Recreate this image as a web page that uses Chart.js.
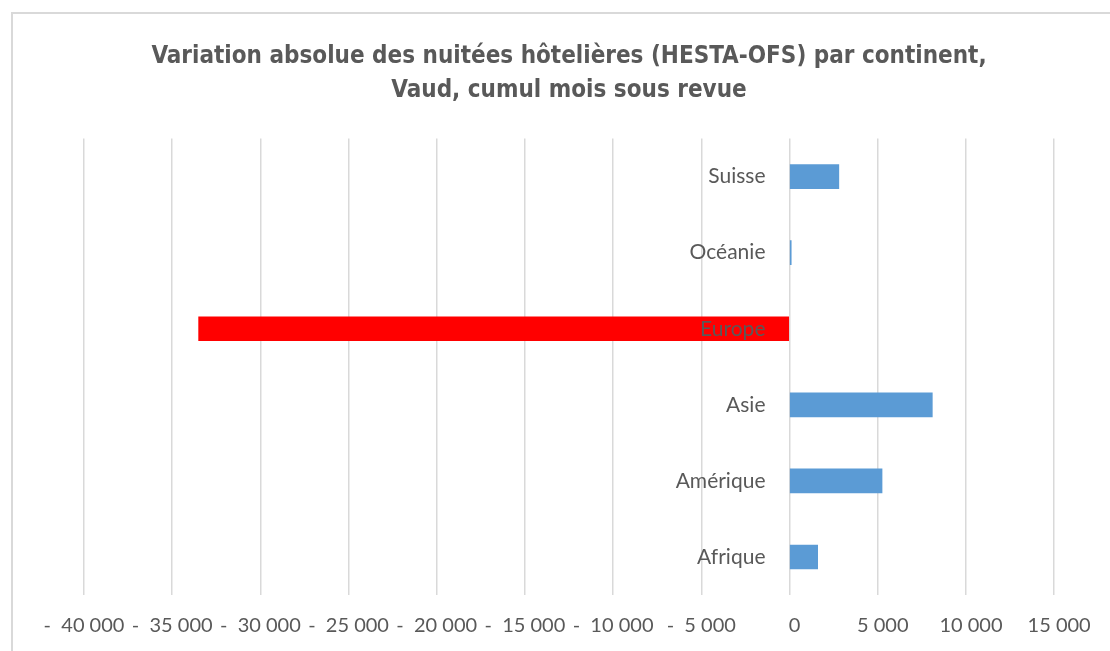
<!DOCTYPE html>
<html>
<head>
<meta charset="utf-8">
<script src="https://cdn.jsdelivr.net/npm/chart.js@4.4.1/dist/chart.umd.min.js"></script>
<style>
  html, body { margin: 0; padding: 0; background: #fff; }
  #wrap { position: relative; width: 1110px; height: 651px; overflow: hidden; }
  #frame { position: absolute; left: 11px; top: 12px; width: 1200px; height: 700px;
           border: 2px solid #d9d9d9; box-sizing: border-box; }
  canvas { position: absolute; left: 0; top: 0; }
</style>
</head>
<body>
<div id="wrap">
  <div id="frame"></div>
  <canvas id="chart" width="1110" height="651"></canvas>
</div>
<script>
// continents, listed top to bottom as in the chart
const categories = ['Suisse', 'Océanie', 'Europe', 'Asie', 'Amérique', 'Afrique'];
// absolute change in hotel nights
const variation = [2800, 100, -33500, 8100, 5250, 1600];

const titleLines = [
  'Variation absolue des nuitées hôtelières (HESTA-OFS) par continent,',
  'Vaud, cumul mois sous revue'
];

const textColor = '#595959';

// accounting style: "-  40 000" for negatives, blank sign slot for the rest
function formatTick(v) {
  const s = Math.abs(v).toString().replace(/\B(?=(\d{3})+(?!\d))/g, ' ');
  if (v < 0) return '-  ' + s;
  return '  ' + s;
}

const ctx = document.getElementById('chart').getContext('2d');
new Chart(ctx, {
  type: 'bar',
  data: {
    labels: categories,
    datasets: [{
      data: variation,
      backgroundColor: c => (c.raw < 0 ? '#ff0000' : '#5b9bd5'),
      barThickness: 24
    }]
  },
  options: {
    indexAxis: 'y',
    responsive: false,
    animation: false,
    layout: { padding: { left: 84, right: 56, top: 39, bottom: 0 } },
    plugins: {
      legend: { display: false },
      tooltip: { enabled: false },
      title: {
        display: true,
        text: titleLines,
        color: textColor,
        font: { family: '"Liberation Sans Narrow", "DejaVu Sans Condensed", sans-serif', size: 24, weight: 'bold', lineHeight: 1.45 },
        padding: { top: 0, bottom: 30 }
      }
    },
    scales: {
      x: {
        min: -40000,
        max: 15000,
        grid: { color: '#d9d9d9', lineWidth: 1.5, drawTicks: false },
        border: { display: false },
        afterFit: s => { s.height = 56; s.paddingRight = 0; s.paddingLeft = 0; },
        ticks: {
          stepSize: 5000,
          color: textColor,
          padding: 19,
          font: { family: 'Lato, sans-serif', size: 20 },
          callback: v => formatTick(v)
        }
      },
      y: {
        // labels sit just left of the zero line, like Excel's "next to axis"
        position: { x: -1360 },
        grid: { display: false },
        border: { display: false },
        ticks: {
          z: 1,
          color: textColor,
          font: { family: 'Lato, sans-serif', size: 21 }
        }
      }
    }
  }
});
</script>
</body>
</html>
